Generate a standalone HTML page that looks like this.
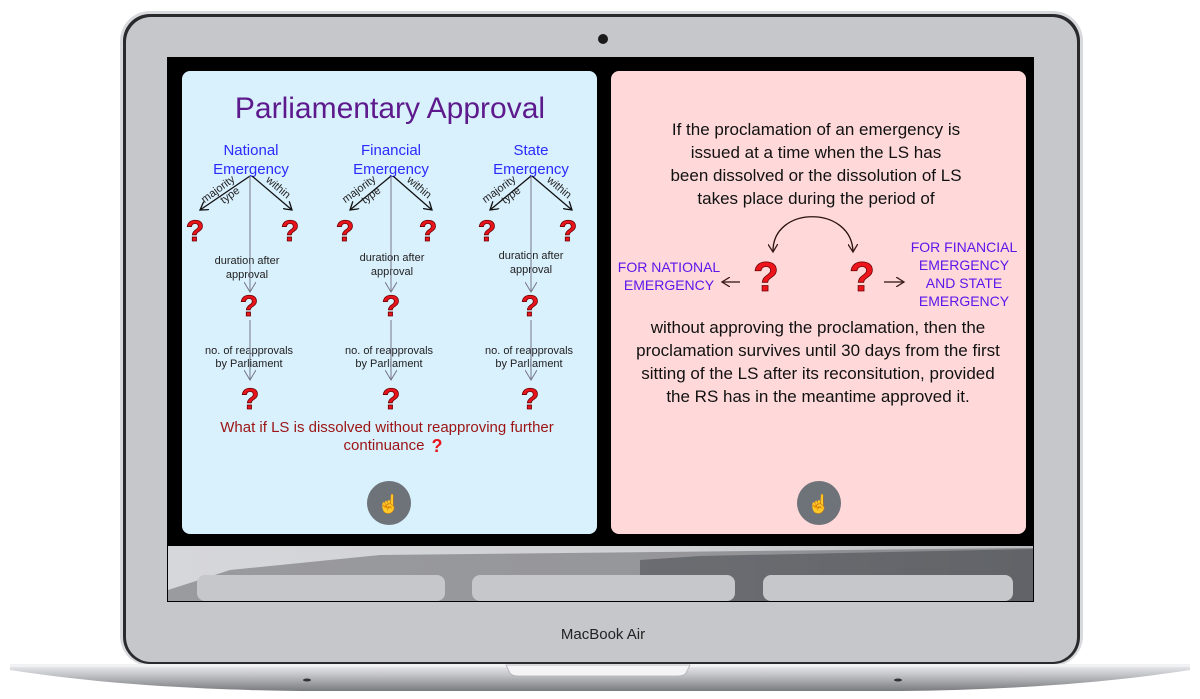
<!DOCTYPE html>
<html><head><style>
html,body{margin:0;padding:0;background:#fff;width:1200px;height:699px;overflow:hidden}
svg text{font-family:"Liberation Sans",sans-serif}
</style></head><body>
<svg width="1200" height="699" viewBox="0 0 1200 699" xmlns="http://www.w3.org/2000/svg">
<defs>
<linearGradient id="base" x1="0" y1="0" x2="0" y2="1">
<stop offset="0" stop-color="#e8e9ec"/><stop offset="0.35" stop-color="#c4c5c9"/><stop offset="1" stop-color="#7a7b7f"/>
</linearGradient>
<linearGradient id="blur" x1="0" y1="0" x2="1" y2="0">
<stop offset="0" stop-color="#d6d7da"/><stop offset="0.6" stop-color="#cfd0d3"/><stop offset="1" stop-color="#b8babe"/>
</linearGradient>
<marker id="ab" markerWidth="10" markerHeight="10" refX="8" refY="5" orient="auto" markerUnits="userSpaceOnUse"><path d="M0,0 L8,5 L0,10" fill="none" stroke="#111" stroke-width="1.3"/></marker>
<marker id="ag" markerWidth="12" markerHeight="12" refX="10" refY="6" orient="auto" markerUnits="userSpaceOnUse"><path d="M0,0 L10,6 L0,12" fill="none" stroke="#778" stroke-width="1"/></marker>
<marker id="ar" markerWidth="10" markerHeight="10" refX="8" refY="5" orient="auto-start-reverse" markerUnits="userSpaceOnUse"><path d="M0,0 L8,5 L0,10" fill="none" stroke="#3a1a1a" stroke-width="1.3"/></marker>
</defs>
<!-- lid -->
<rect x="120" y="11" width="963" height="655" rx="30" fill="#d8d9dc"/>
<rect x="123" y="14" width="957" height="650" rx="27" fill="#2a2a2c"/>
<rect x="126" y="17" width="951" height="645" rx="25" fill="#c6c7cb"/>
<circle cx="603" cy="39" r="5" fill="#1a1a1a"/>
<!-- screen -->
<rect x="167" y="57" width="867" height="545" fill="#000"/>
<rect x="168" y="546" width="865" height="55" fill="url(#blur)"/>
<path d="M168,590 L230,570 L380,555 L1033,548 L1033,601 L168,601Z" fill="#2a2b30" opacity="0.35"/>
<path d="M640,560 L700,556 L1033,549 L1033,601 L640,601Z" fill="#1e1f24" opacity="0.35"/>
<rect x="197" y="575" width="248" height="26" rx="8" fill="#c6c7ca"/>
<rect x="472" y="575" width="263" height="26" rx="8" fill="#c6c7ca"/>
<rect x="763" y="575" width="250" height="26" rx="8" fill="#c6c7ca"/>
<!-- left panel -->
<rect x="182" y="71" width="415" height="463" rx="8" fill="#d9f0fd"/>
<text x="390" y="118" font-size="30" fill="#5d1a8c" text-anchor="middle">Parliamentary Approval</text>
<g font-size="15" fill="#2b2bff" text-anchor="middle">
<text x="251" y="155">National</text><text x="251" y="174">Emergency</text>
<text x="391" y="155">Financial</text><text x="391" y="174">Emergency</text>
<text x="531" y="155">State</text><text x="531" y="174">Emergency</text>
</g>
<g font-size="11" fill="#222" text-anchor="middle">
<text x="247" y="264">duration after</text><text x="247" y="278">approval</text>
<text x="392" y="261">duration after</text><text x="392" y="275">approval</text>
<text x="531" y="259">duration after</text><text x="531" y="273">approval</text>
<text x="249" y="354">no. of reapprovals</text><text x="249" y="367">by Parliament</text>
<text x="389" y="354">no. of reapprovals</text><text x="389" y="367">by Parliament</text>
<text x="529" y="354">no. of reapprovals</text><text x="529" y="367">by Parliament</text>
</g>
<g stroke-width="1.3" fill="none">
<path d="M250,176 L200,210" stroke="#111" marker-end="url(#ab)"/>
<path d="M252,176 L292,210" stroke="#111" marker-end="url(#ab)"/>
<path d="M250,176 L250,292" stroke="#778" marker-end="url(#ag)" stroke-width="1"/>
<path d="M250,320 L250,380" stroke="#778" marker-end="url(#ag)" stroke-width="1"/>
<path d="M391,176 L350,210" stroke="#111" marker-end="url(#ab)"/>
<path d="M393,176 L432,210" stroke="#111" marker-end="url(#ab)"/>
<path d="M391,176 L391,292" stroke="#778" marker-end="url(#ag)" stroke-width="1"/>
<path d="M391,320 L391,380" stroke="#778" marker-end="url(#ag)" stroke-width="1"/>
<path d="M531,176 L490,210" stroke="#111" marker-end="url(#ab)"/>
<path d="M532,176 L572,210" stroke="#111" marker-end="url(#ab)"/>
<path d="M531,176 L531,292" stroke="#778" marker-end="url(#ag)" stroke-width="1"/>
<path d="M531,320 L531,380" stroke="#778" marker-end="url(#ag)" stroke-width="1"/>
</g>
<g font-size="11" fill="#222" text-anchor="middle">
<text transform="translate(220,192) rotate(-36)">majority</text><text transform="translate(232,198) rotate(-36)">type</text>
<text transform="translate(276,190) rotate(40)">within</text>
<text transform="translate(361,192) rotate(-36)">majority</text><text transform="translate(373,198) rotate(-36)">type</text>
<text transform="translate(417,190) rotate(40)">within</text>
<text transform="translate(501,192) rotate(-36)">majority</text><text transform="translate(513,198) rotate(-36)">type</text>
<text transform="translate(557,190) rotate(40)">within</text>
</g>
<g font-size="30" font-weight="bold" fill="#e8141c" stroke="#6a0000" stroke-width="0.8" text-anchor="middle">
<text x="195" y="241">?</text><text x="290" y="241">?</text>
<text x="345" y="241">?</text><text x="428" y="241">?</text>
<text x="487" y="241">?</text><text x="568" y="241">?</text>
<text x="249" y="316">?</text><text x="391" y="316">?</text><text x="530" y="316">?</text>
<text x="250" y="409">?</text><text x="391" y="409">?</text><text x="530" y="409">?</text>
</g>
<g font-size="15" fill="#9c1414" text-anchor="middle">
<text x="387" y="432">What if LS is dissolved without reapproving further</text>
<text x="384" y="450">continuance</text>
</g>
<text x="437" y="452" font-size="18" font-weight="bold" fill="#e8141c" text-anchor="middle">?</text>
<circle cx="389" cy="503" r="22" fill="#6d7378"/>
<text x="389" y="510" font-size="18" fill="#fff" text-anchor="middle">☝</text>
<!-- right panel -->
<rect x="611" y="71" width="415" height="463" rx="8" fill="#ffd9da"/>
<g font-size="17" fill="#111" text-anchor="middle">
<text x="816" y="135">If the proclamation of an emergency is</text>
<text x="816" y="158">issued at a time when the LS has</text>
<text x="816" y="181">been dissolved or the dissolution of LS</text>
<text x="816" y="204">takes place during the period of</text>
<text x="818" y="333">without approving the proclamation, then the</text>
<text x="818" y="356">proclamation survives until 30 days from the first</text>
<text x="818" y="379">sitting of the LS after its reconsitution, provided</text>
<text x="818" y="402">the RS has in the meantime approved it.</text>
</g>
<path d="M773,252 C772,205 852,205 853,252" fill="none" stroke="#2a1010" stroke-width="1.3" marker-start="url(#ar)" marker-end="url(#ar)"/>
<path d="M740,282 L722,282" stroke="#2a1010" stroke-width="1.2" marker-end="url(#ar)"/>
<path d="M884,282 L904,282" stroke="#2a1010" stroke-width="1.2" marker-end="url(#ar)"/>
<g font-size="42" font-weight="bold" fill="#ee141c" stroke="#6a0000" stroke-width="0.8" text-anchor="middle">
<text x="766" y="291">?</text><text x="862" y="291">?</text>
</g>
<g font-size="14" fill="#5b17ea" text-anchor="middle">
<text x="669" y="272">FOR NATIONAL</text><text x="669" y="290">EMERGENCY</text>
<text x="964" y="252">FOR FINANCIAL</text><text x="964" y="270">EMERGENCY</text>
<text x="964" y="288">AND STATE</text><text x="964" y="306">EMERGENCY</text>
</g>
<circle cx="819" cy="503" r="22" fill="#6d7378"/>
<text x="819" y="510" font-size="18" fill="#fff" text-anchor="middle">☝</text>
<!-- chin -->
<text x="603" y="639" font-size="15" fill="#222" text-anchor="middle">MacBook Air</text>
<!-- base -->
<path d="M10,666 L1190,666 L1190,670 C1100,684 1000,690 900,691 L300,691 C200,690 100,684 10,670Z" fill="url(#base)"/>
<rect x="10" y="664" width="1180" height="3" fill="#f2f2f4"/>
<path d="M506,665 L690,665 L686,673 Q684,676 678,676 L518,676 Q512,676 510,673Z" fill="#f4f4f6" stroke="#b0b0b4" stroke-width="0.8"/>
<ellipse cx="307" cy="680" rx="4" ry="1.5" fill="#333"/><ellipse cx="898" cy="680" rx="4" ry="1.5" fill="#333"/>
</svg>
</body></html>
